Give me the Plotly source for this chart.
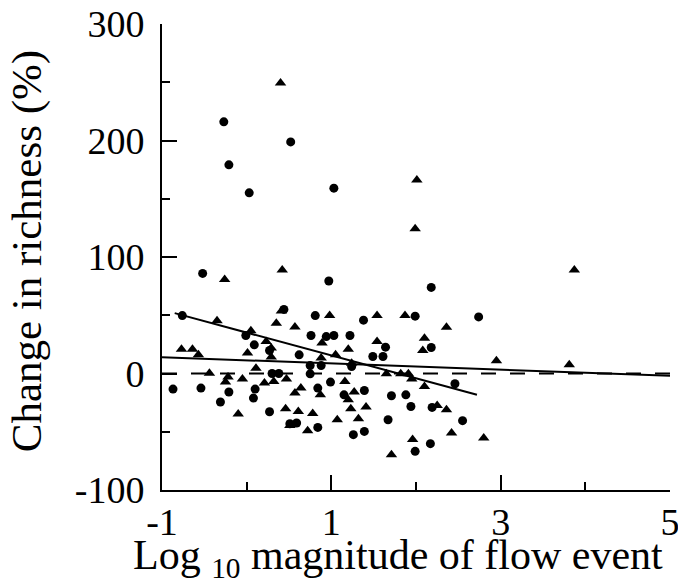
import plotly.graph_objects as go

# Circles (one group of sites)
circle_x = [-0.27, -0.21, 0.03, 0.52, 1.03, -0.52, 0.97, 2.18, -0.76, 0.44,
            -0.01, 0.09, 0.27, 0.30, 0.38, -0.87, -0.54, -0.21, 0.10, 0.08,
            -0.31, 0.27, 0.81, 1.38, 1.99, 2.74, 0.76, 0.94, 1.03, 1.22,
            1.64, 0.62, 1.49, 1.61, 0.88, 0.75, 0.75, 1.24, 0.99, 0.84,
            1.15, 1.39, 1.71, 1.88, 1.94, 1.67, 0.59, 0.84, 1.26, 1.39,
            1.99, 2.18, 2.46, 2.19, 2.55, 2.17, 0.51]
circle_y = [216.0, 179.1, 155.1, 198.8, 159.1, 85.9, 79.4, 73.9, 49.7, 55.0,
            32.6, 24.6, 19.7, 0.0, 0.0, -13.4, -12.5, -15.9, -13.4, -21.1,
            -24.5, -32.8, 49.7, 45.8, 49.2, 48.6, 32.6, 31.7, 32.6, 32.6,
            22.6, 16.0, 14.6, 14.6, 6.9, 6.9, -0.3, 6.0, -7.4, -12.5,
            -18.3, -14.6, -19.1, -18.3, -28.3, -39.7, -42.5, -46.3, -52.5, -49.7,
            -66.8, 22.3, -8.8, -29.1, -40.5, -60.2, -43.1]

# Triangles (other group of sites)
tri_x = [0.40, 2.01, 1.99, -0.26, 0.42, 3.87, -0.35, 0.41, 0.35, 0.05,
         0.23, 0.29, -0.77, -0.64, -0.57, 0.01, 0.29, 0.11, -0.44, -0.22,
         -0.25, -0.05, 0.47, 0.32, 0.21, -0.10, 0.46, 0.51, 0.98, 1.54,
         1.87, 0.57, 0.89, 1.54, 1.20, 1.05, 0.88, 1.24, 1.65, 1.82,
         1.91, 1.95, 1.16, 0.64, 0.57, 0.87, 1.27, 1.20, 0.61, 0.78,
         1.23, 1.41, 1.07, 1.32, 0.72, 1.96, 1.71, 2.36, 2.10, 2.08,
         2.95, 2.10, 2.25, 2.36, 2.42, 2.80, 3.81]
tri_y = [249.4, 166.0, 124.3, 80.7, 88.9, 88.9, 45.2, 53.7, 43.2, 36.6,
         27.4, 21.8, 20.9, 20.9, 16.0, 17.5, 14.1, 4.6, 0.3, -3.1,
         -7.4, -4.8, -4.8, -6.9, -8.2, -34.8, -30.3, -44.6, 49.7, 49.7,
         49.7, 40.0, 26.1, 27.4, 20.9, 16.0, 13.2, 8.9, -0.3, -0.3,
         -0.3, -4.8, -6.9, -12.5, -16.8, -18.3, -15.9, -22.5, -32.6, -34.3,
         -30.3, -28.8, -39.7, -38.8, -49.1, -56.6, -69.7, 39.8, 30.3, 19.7,
         10.9, -11.1, -27.4, -31.1, -51.1, -55.4, 7.5]

# Regression lines (end points) and zero reference
fit_all_x = [-1.0, 5.0]
fit_all_y = [14.0, -2.0]
fit_circ_x = [-0.85, 2.72]
fit_circ_y = [51.8, -18.3]
zero_x = [-1.0, 5.0]
zero_y = [0.0, 0.0]

x_tickvals = [-1, 1, 3, 5]
x_ticktext = ["-1", "1", "3", "5"]
y_tickvals = [-100, 0, 100, 200, 300]
y_ticktext = ["-100", "0", "100", "200", "300"]

x_title = "Log <sub>10</sub> magnitude of flow event"
y_title = "Change in richness (%)"

FONT = "Liberation Serif, Times New Roman, serif"

fig = go.Figure()
fig.add_trace(go.Scatter(x=zero_x, y=zero_y, mode="lines",
                         line=dict(color="black", width=2, dash="15px,14px"),
                         hoverinfo="skip", showlegend=False))
fig.add_trace(go.Scatter(x=fit_all_x, y=fit_all_y, mode="lines",
                         line=dict(color="black", width=2),
                         showlegend=False))
fig.add_trace(go.Scatter(x=fit_circ_x, y=fit_circ_y, mode="lines",
                         line=dict(color="black", width=2),
                         showlegend=False))
fig.add_trace(go.Scatter(x=circle_x, y=circle_y, mode="markers",
                         marker=dict(symbol="circle", size=9, color="black"),
                         showlegend=False))
fig.add_trace(go.Scatter(x=tri_x, y=tri_y, mode="markers",
                         marker=dict(symbol="triangle-up", size=10, color="black"),
                         showlegend=False))

fig.update_layout(
    width=678, height=579,
    margin=dict(l=162, r=8, t=24, b=89, autoexpand=False),
    paper_bgcolor="white", plot_bgcolor="white",
    font=dict(family=FONT, color="black", size=38),
    annotations=[
        dict(text=x_title, xref="paper", yref="paper", x=0.465, y=0,
             xanchor="center", yanchor="top", yshift=-40, showarrow=False,
             font=dict(size=42, family=FONT, color="black")),
        dict(text=y_title, xref="paper", yref="paper", x=-0.264, y=0.512,
             xanchor="center", yanchor="middle", textangle=-90, showarrow=False,
             font=dict(size=43, family=FONT, color="black")),
    ],
)
fig.update_xaxes(
    range=[-1, 5], showgrid=False, zeroline=False, automargin=False,
    showline=True, linecolor="black", linewidth=2,
    ticks="inside", ticklen=15, tickwidth=2, tickcolor="black",
    tickvals=x_tickvals, ticktext=x_ticktext,
    tickfont=dict(size=38, family=FONT),
    ticklabeloverflow="allow", ticklabelstandoff=-3,
    minor=dict(ticks="inside", ticklen=8, tickwidth=2, tickcolor="black",
               dtick=1, tick0=0),
)
fig.update_yaxes(
    range=[-100, 300], showgrid=False, zeroline=False, automargin=False,
    showline=True, linecolor="black", linewidth=2,
    ticks="inside", ticklen=15, tickwidth=2, tickcolor="black",
    tickvals=y_tickvals, ticktext=y_ticktext,
    tickfont=dict(size=38, family=FONT),
    ticklabelstandoff=8,
    minor=dict(ticks="inside", ticklen=8, tickwidth=2, tickcolor="black",
               dtick=50, tick0=0),
)

fig.write_html("out.html")
